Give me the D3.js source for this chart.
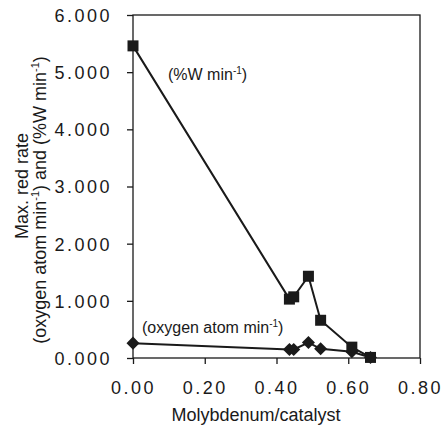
<!DOCTYPE html>
<html>
<head>
<meta charset="utf-8">
<script src="https://cdn.jsdelivr.net/npm/d3@7"></script>
<style>
  body { margin: 0; background: #fff; }
  svg { display: block; font-family: "Liberation Sans", Arial, sans-serif; }
</style>
</head>
<body>
<svg id="svg"></svg>
<script>
// data
let moFraction = [0, 0.436, 0.448, 0.489, 0.523, 0.61, 0.662];
let tungstenRate = [5.46, 1.03, 1.07, 1.43, 0.66, 0.19, 0.01];
let oxygenRate = [0.26, 0.15, 0.15, 0.27, 0.16, 0.11, 0.01];

let xTicks = [0, 0.2, 0.4, 0.6, 0.8];
let yTicks = [0, 1, 2, 3, 4, 5, 6];

const width = 443;
const height = 432;
const ink = "#1a1a1a";

let svg = d3.select("#svg").attr("width", width).attr("height", height);

let xScale = d3.scaleLinear().domain([0, 0.8]).range([133, 420]);
let yScale = d3.scaleLinear().domain([0, 6]).range([358, 15]);

// frame around the plot area
svg.append("rect")
    .attr("x", xScale(0))
    .attr("y", yScale(6))
    .attr("width", xScale(0.8) - xScale(0))
    .attr("height", yScale(0) - yScale(6))
    .attr("fill", "none")
    .attr("stroke", ink)
    .attr("stroke-width", 1.3);

// x axis
let xAxis = svg.append("g")
    .attr("transform", `translate(0,${yScale(0)})`)
    .call(d3.axisBottom(xScale).tickValues(xTicks).tickSize(6).tickPadding(17)
        .tickFormat(d3.format(".2f")));

// y axis
let yAxis = svg.append("g")
    .attr("transform", `translate(${xScale(0)},0)`)
    .call(d3.axisLeft(yScale).tickValues(yTicks).tickSize(6).tickPadding(15)
        .tickFormat(d3.format(".3f")));

[xAxis, yAxis].forEach(ax => {
    ax.select(".domain").remove();
    ax.selectAll("line").attr("stroke", ink).attr("stroke-width", 1.3);
    ax.selectAll("text")
        .attr("fill", ink)
        .style("font-size", "18px")
        .style("letter-spacing", "2.5px")
        .style("font-family", "Liberation Sans, Arial, sans-serif");
});
yAxis.selectAll("text").attr("dy", "0.36em");

let points = moFraction.map((x, i) => ({ x: x, w: tungstenRate[i], o: oxygenRate[i] }));

let line = key => d3.line()
    .x(d => xScale(d.x))
    .y(d => yScale(d[key]));

svg.append("path")
    .datum(points)
    .attr("d", line("o"))
    .attr("fill", "none")
    .attr("stroke", ink)
    .attr("stroke-width", 2);

svg.append("path")
    .datum(points)
    .attr("d", line("w"))
    .attr("fill", "none")
    .attr("stroke", ink)
    .attr("stroke-width", 2);

// diamond markers
svg.selectAll(".diamond")
    .data(points)
    .enter().append("path")
    .attr("class", "diamond")
    .attr("d", d3.symbol().type(d3.symbolSquare).size(85))
    .attr("transform", d => `translate(${xScale(d.x)},${yScale(d.o)}) rotate(45)`)
    .attr("fill", ink);

// square markers
svg.selectAll(".square")
    .data(points)
    .enter().append("path")
    .attr("class", "square")
    .attr("d", d3.symbol().type(d3.symbolSquare).size(121))
    .attr("transform", d => `translate(${xScale(d.x)},${yScale(d.w)})`)
    .attr("fill", ink);

// series labels with superscript
function unitLabel(x, y, before, after) {
    let t = svg.append("text")
        .attr("x", x).attr("y", y)
        .attr("fill", ink)
        .style("font-size", "16px");
    t.append("tspan").text(before);
    t.append("tspan").attr("dy", -6).style("font-size", "10px").text("-1");
    t.append("tspan").attr("dy", 6).text(after);
    return t;
}
unitLabel(168, 80, "(%W min", ")");
unitLabel(142, 333, "(oxygen atom min", ")");

// axis titles
svg.append("text")
    .attr("x", 256)
    .attr("y", 421)
    .attr("text-anchor", "middle")
    .attr("fill", ink)
    .style("font-size", "18px")
    .text("Molybdenum/catalyst");

let yTitle = svg.append("g").attr("transform", "rotate(-90)");
yTitle.append("text")
    .attr("x", -186)
    .attr("y", 28)
    .attr("text-anchor", "middle")
    .attr("fill", ink)
    .style("font-size", "18px")
    .text("Max. red rate");

let line2 = yTitle.append("text")
    .attr("x", -200)
    .attr("y", 46)
    .attr("text-anchor", "middle")
    .attr("fill", ink)
    .style("font-size", "18px");
line2.append("tspan").text("(oxygen atom min");
line2.append("tspan").attr("dy", -7).style("font-size", "11px").text("-1");
line2.append("tspan").attr("dy", 7).text(") and (%W min");
line2.append("tspan").attr("dy", -7).style("font-size", "11px").text("-1");
line2.append("tspan").attr("dy", 7).text(")");
</script>
</body>
</html>
